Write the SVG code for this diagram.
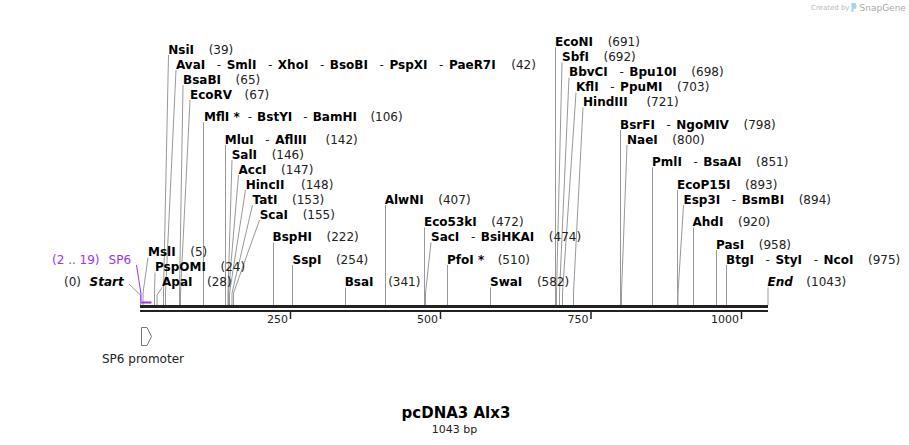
<svg xmlns="http://www.w3.org/2000/svg" width="909" height="445" viewBox="0 0 909 445">
<style>
.b{font-family:"DejaVu Sans",Verdana,sans-serif;font-weight:bold;font-style:normal;font-size:12px;fill:#000}
.bi{font-family:"DejaVu Sans",Verdana,sans-serif;font-weight:bold;font-style:italic;font-size:12px;fill:#000}
.c{font-family:"DejaVu Sans",Verdana,sans-serif;font-weight:normal;font-style:normal;font-size:12px;fill:#222}
.p{font-family:"DejaVu Sans",Verdana,sans-serif;font-size:12px;fill:#9933ff}
.l{fill:none;stroke:#999;stroke-width:1}
.tk{fill:none;stroke:#222;stroke-width:1.5}
.sc{font-family:"DejaVu Sans",Verdana,sans-serif;font-size:11px;fill:#222;text-anchor:end}
</style>
<rect width="909" height="445" fill="#fff"/>

<g id="watermark">
<text x="811" y="10" style="font-family:'DejaVu Sans',sans-serif;font-size:7px;fill:#bbb">Created by</text>
<path d="M851.5,3 h3 a2,2 0 0 1 2,2 v2 a2,2 0 0 1 -2,2 h-1 v3 h-2 z" fill="#a8d4ee"/>
<text x="859.5" y="11" style="font-family:'DejaVu Sans',sans-serif;font-size:9px;fill:#aaa">SnapGene</text>
</g>

<g id="connectors">
<polyline class="l" points="168.5,55 163.5,293 163.5,305"/>
<polyline class="l" points="176,70 165.5,293 165.5,305"/>
<polyline class="l" points="183,85 179.5,293 179.5,305"/>
<polyline class="l" points="190,100 180.5,293 180.5,305"/>
<polyline class="l" points="203.5,122.5 203.5,305"/>
<polyline class="l" points="225.5,145 225.5,305"/>
<polyline class="l" points="232,160 228,293 228,305"/>
<polyline class="l" points="238.5,175 228.5,293 228.5,305"/>
<polyline class="l" points="245.5,190 229.5,293 229.5,305"/>
<polyline class="l" points="252.5,205 232,293 232,305"/>
<polyline class="l" points="259.5,220 233.5,293 233.5,305"/>
<polyline class="l" points="273.5,242.5 273.5,305"/>
<polyline class="l" points="292.5,265 292.5,305"/>
<polyline class="l" points="148,257.5 143,293 143,305"/>
<polyline class="l" points="155,272.5 154.5,293 154.5,305"/>
<polyline class="l" points="162,287.5 157,295 157,305"/>
<polyline class="l" points="345.5,287.5 345.5,305"/>
<polyline class="l" points="385.5,205 385.5,305"/>
<polyline class="l" points="424.5,227.5 424.5,305"/>
<polyline class="l" points="431,242.5 425.5,293 425.5,305"/>
<polyline class="l" points="447.5,265 447.5,305"/>
<polyline class="l" points="490.5,287.5 490.5,305"/>
<polyline class="l" points="555.5,47.5 555.5,305"/>
<polyline class="l" points="562,62.5 556.5,293 556.5,305"/>
<polyline class="l" points="569,77.5 559.5,293 559.5,305"/>
<polyline class="l" points="576,92.5 562.5,293 562.5,305"/>
<polyline class="l" points="583,107.5 573.5,293 573.5,305"/>
<polyline class="l" points="620.5,130 620.5,305"/>
<polyline class="l" points="627,145 621.5,293 621.5,305"/>
<polyline class="l" points="652.5,167.5 652.5,305"/>
<polyline class="l" points="677.5,190 677.5,305"/>
<polyline class="l" points="683.5,205 678,293 678,305"/>
<polyline class="l" points="693.5,227.5 693.5,305"/>
<polyline class="l" points="716.5,250 716.5,305"/>
<polyline class="l" points="726.5,265 726.5,305"/>
<polyline class="l" points="768,287.5 768,305"/>
<polyline class="l" points="129,284 140.5,295 140.5,305"/>
<polyline points="136.5,265 141,294 141,301" fill="none" stroke="#9933ff" stroke-width="1"/>
</g>

<g id="backbone">
<rect x="140" y="305" width="628" height="3" fill="#222"/>
<rect x="140" y="310" width="628" height="2" fill="#222"/>
<rect x="141" y="301.5" width="10.5" height="2" fill="#9933ff"/>
<line class="tk" x1="290.5" y1="312" x2="290.5" y2="319"/>
<line class="tk" x1="440.5" y1="312" x2="440.5" y2="319"/>
<line class="tk" x1="591" y1="312" x2="591" y2="319"/>
<line class="tk" x1="741.5" y1="312" x2="741.5" y2="319"/>
<text class="sc" x="288" y="322.5">250</text>
<text class="sc" x="438" y="322.5">500</text>
<text class="sc" x="588.5" y="322.5">750</text>
<text class="sc" x="739" y="322.5">1000</text>
</g>

<g id="sp6-promoter">
<polygon points="141.5,327.5 147,327.5 151.5,336.5 147,345.5 141.5,345.5" fill="#fff" stroke="#777" stroke-width="1"/>
<text class="c" x="102" y="362.5">SP6 promoter</text>
</g>

<g id="sp6-label"><text class="p" x="52" y="263.5">(2 .. 19)<tspan dx="9">SP6</tspan></text></g>
<g id="start"><text x="64" y="286"><tspan class="c">(0)</tspan><tspan class="bi" dx="8.5">Start</tspan></text></g>
<g id="end"><text x="767.5" y="286"><tspan class="bi">End</tspan><tspan class="c" dx="13.5">(1043)</tspan></text></g>

<g id="NsiI"><text x="168.3" y="53.5"><tspan class="b">NsiI</tspan><tspan class="c" dx="14.6">(39)</tspan></text></g>
<g id="AvaI"><text x="176" y="68.5"><tspan class="b">AvaI</tspan><tspan class="c" dx="11.6">-</tspan><tspan class="b" dx="5.5">SmlI</tspan><tspan class="c" dx="11.6">-</tspan><tspan class="b" dx="5.5">XhoI</tspan><tspan class="c" dx="11.6">-</tspan><tspan class="b" dx="5.5">BsoBI</tspan><tspan class="c" dx="11.6">-</tspan><tspan class="b" dx="5.5">PspXI</tspan><tspan class="c" dx="11.6">-</tspan><tspan class="b" dx="5.5">PaeR7I</tspan><tspan class="c" dx="15.6">(42)</tspan></text></g>
<g id="BsaBI"><text x="183" y="83.5"><tspan class="b">BsaBI</tspan><tspan class="c" dx="14.6">(65)</tspan></text></g>
<g id="EcoRV"><text x="190" y="98.5"><tspan class="b">EcoRV</tspan><tspan class="c" dx="12.5">(67)</tspan></text></g>
<g id="MflI"><text x="204" y="121"><tspan class="b">MflI *</tspan><tspan class="c" dx="8">-</tspan><tspan class="b" dx="5">BstYI</tspan><tspan class="c" dx="11">-</tspan><tspan class="b" dx="5">BamHI</tspan><tspan class="c" dx="13.5">(106)</tspan></text></g>
<g id="MluI"><text x="224.7" y="143.5"><tspan class="b">MluI</tspan><tspan class="c" dx="11.6">-</tspan><tspan class="b" dx="5.5">AflIII</tspan><tspan class="c" dx="18.7">(142)</tspan></text></g>
<g id="SalI"><text x="231.7" y="158.5"><tspan class="b">SalI</tspan><tspan class="c" dx="14.6">(146)</tspan></text></g>
<g id="AccI"><text x="238.5" y="173.5"><tspan class="b">AccI</tspan><tspan class="c" dx="14.6">(147)</tspan></text></g>
<g id="HincII"><text x="245.7" y="188.5"><tspan class="b">HincII</tspan><tspan class="c" dx="16.6">(148)</tspan></text></g>
<g id="TatI"><text x="252.5" y="203.5"><tspan class="b">TatI</tspan><tspan class="c" dx="14.6">(153)</tspan></text></g>
<g id="ScaI"><text x="259.7" y="218.5"><tspan class="b">ScaI</tspan><tspan class="c" dx="14.6">(155)</tspan></text></g>
<g id="BspHI"><text x="272.5" y="241"><tspan class="b">BspHI</tspan><tspan class="c" dx="14.6">(222)</tspan></text></g>
<g id="SspI"><text x="292.5" y="263.5"><tspan class="b">SspI</tspan><tspan class="c" dx="14.6">(254)</tspan></text></g>
<g id="MslI"><text x="148" y="256"><tspan class="b">MslI</tspan><tspan class="c" dx="14.6">(5)</tspan></text></g>
<g id="PspOMI"><text x="155" y="271"><tspan class="b">PspOMI</tspan><tspan class="c" dx="14.6">(24)</tspan></text></g>
<g id="ApaI"><text x="162" y="286"><tspan class="b">ApaI</tspan><tspan class="c" dx="14.6">(28)</tspan></text></g>
<g id="BsaI"><text x="344.7" y="286"><tspan class="b">BsaI</tspan><tspan class="c" dx="14.6">(341)</tspan></text></g>
<g id="AlwNI"><text x="384.7" y="203.5"><tspan class="b">AlwNI</tspan><tspan class="c" dx="14.6">(407)</tspan></text></g>
<g id="Eco53kI"><text x="424" y="226"><tspan class="b">Eco53kI</tspan><tspan class="c" dx="14.6">(472)</tspan></text></g>
<g id="SacI"><text x="431" y="241"><tspan class="b">SacI</tspan><tspan class="c" dx="11.6">-</tspan><tspan class="b" dx="5.5">BsiHKAI</tspan><tspan class="c" dx="14.6">(474)</tspan></text></g>
<g id="PfoI"><text x="447" y="263.5"><tspan class="b">PfoI *</tspan><tspan class="c" dx="13.5">(510)</tspan></text></g>
<g id="SwaI"><text x="490" y="286"><tspan class="b">SwaI</tspan><tspan class="c" dx="14.6">(582)</tspan></text></g>
<g id="EcoNI"><text x="555" y="46"><tspan class="b">EcoNI</tspan><tspan class="c" dx="14.6">(691)</tspan></text></g>
<g id="SbfI"><text x="562" y="61"><tspan class="b">SbfI</tspan><tspan class="c" dx="14.6">(692)</tspan></text></g>
<g id="BbvCI"><text x="569" y="76"><tspan class="b">BbvCI</tspan><tspan class="c" dx="11.6">-</tspan><tspan class="b" dx="5.5">Bpu10I</tspan><tspan class="c" dx="14.6">(698)</tspan></text></g>
<g id="KflI"><text x="576" y="91"><tspan class="b">KflI</tspan><tspan class="c" dx="11.6">-</tspan><tspan class="b" dx="5.5">PpuMI</tspan><tspan class="c" dx="14.6">(703)</tspan></text></g>
<g id="HindIII"><text x="583" y="106"><tspan class="b">HindIII</tspan><tspan class="c" dx="18.7">(721)</tspan></text></g>
<g id="BsrFI"><text x="620" y="128.5"><tspan class="b">BsrFI</tspan><tspan class="c" dx="11.6">-</tspan><tspan class="b" dx="5.5">NgoMIV</tspan><tspan class="c" dx="14.6">(798)</tspan></text></g>
<g id="NaeI"><text x="627" y="143.5"><tspan class="b">NaeI</tspan><tspan class="c" dx="14.6">(800)</tspan></text></g>
<g id="PmlI"><text x="652" y="166"><tspan class="b">PmlI</tspan><tspan class="c" dx="11.6">-</tspan><tspan class="b" dx="5.5">BsaAI</tspan><tspan class="c" dx="14.6">(851)</tspan></text></g>
<g id="EcoP15I"><text x="677" y="188.5"><tspan class="b">EcoP15I</tspan><tspan class="c" dx="14.6">(893)</tspan></text></g>
<g id="Esp3I"><text x="683.5" y="203.5"><tspan class="b">Esp3I</tspan><tspan class="c" dx="11.6">-</tspan><tspan class="b" dx="5.5">BsmBI</tspan><tspan class="c" dx="14.6">(894)</tspan></text></g>
<g id="AhdI"><text x="692.5" y="226"><tspan class="b">AhdI</tspan><tspan class="c" dx="14.6">(920)</tspan></text></g>
<g id="PasI"><text x="716" y="248.5"><tspan class="b">PasI</tspan><tspan class="c" dx="14.6">(958)</tspan></text></g>
<g id="BtgI"><text x="726" y="263.5"><tspan class="b">BtgI</tspan><tspan class="c" dx="11.6">-</tspan><tspan class="b" dx="5.5">StyI</tspan><tspan class="c" dx="11.6">-</tspan><tspan class="b" dx="5.5">NcoI</tspan><tspan class="c" dx="14.6">(975)</tspan></text></g>

<g id="title">
<text x="456" y="417.5" text-anchor="middle" style="font-family:'DejaVu Sans',Verdana,sans-serif;font-weight:bold;font-size:15px;fill:#000">pcDNA3 Alx3</text>
<text x="454.5" y="432.5" text-anchor="middle" style="font-family:'DejaVu Sans',Verdana,sans-serif;font-size:11px;fill:#222">1043 bp</text>
</g>
</svg>
